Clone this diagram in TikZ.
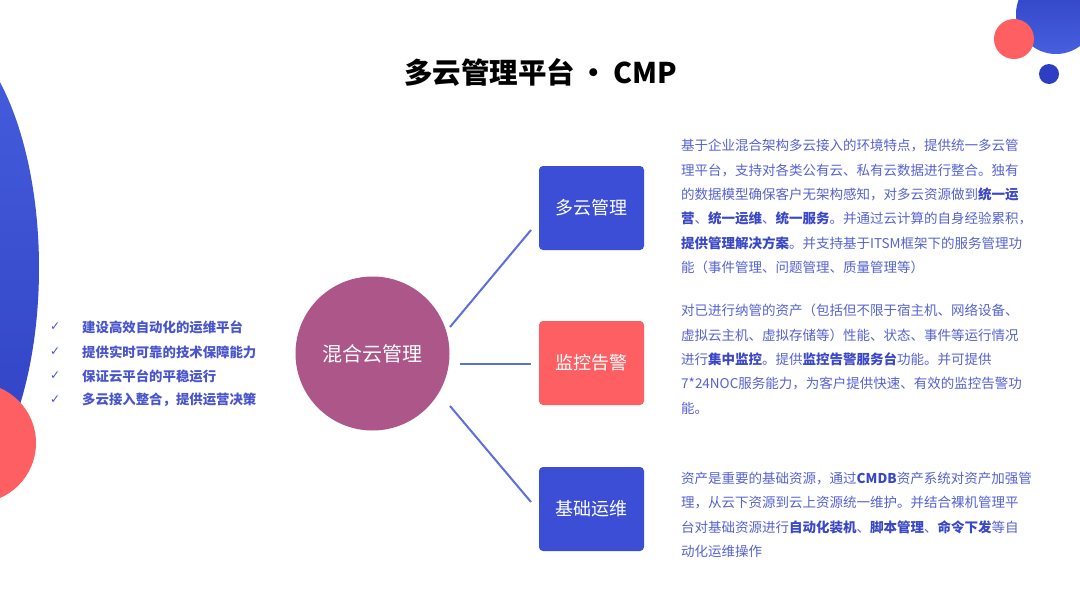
\documentclass[tikz,border=0pt]{standalone}
\usepackage{fontspec}
\setmainfont{Noto Sans CJK SC}
\newfontfamily\djv{DejaVu Sans}
\definecolor{blueL}{HTML}{4660DE}
\definecolor{blueD}{HTML}{2E3EC2}
\definecolor{boxblue}{HTML}{3B4ED5}
\definecolor{boxred}{HTML}{FE5F63}
\definecolor{hubc}{HTML}{AC5689}
\definecolor{linec}{HTML}{5C6FDB}
\definecolor{txtc}{HTML}{5663D2}
\definecolor{hlc}{HTML}{3A47C6}
\definecolor{listc}{HTML}{4855CD}
\newcommand\hb[1]{\textcolor{hlc}{\bfseries #1}}
\begin{document}
\begin{tikzpicture}[x=1pt,y=-1pt,
  boxnode/.style={rectangle, rounded corners=4pt, minimum width=105pt, minimum height=84pt, inner sep=0pt, text=white, font=\fontsize{18}{18}\selectfont},
  hubnode/.style={circle, fill=hubc, minimum size=154pt, inner sep=0pt, text=white, font=\fontsize{20}{20}\selectfont},
  conn/.style={draw=linec, line width=2pt},
  para/.style={anchor=north west, align=left, inner sep=0pt, text=txtc, font=\fontsize{13.5}{24.4}\selectfont},
  listtext/.style={anchor=west, inner sep=0pt, text=listc, font=\fontsize{13.4}{13.4}\selectfont\bfseries},
  checknode/.style={anchor=west, inner sep=0pt, text=listc, font=\djv\fontsize{12}{12}\selectfont}
]
\useasboundingbox (0,0) rectangle (1080,608);
\fill[white] (0,0) rectangle (1080,608);
% decorative shapes
\shade[top color=blueL, bottom color=blueD] (-73,268) ellipse [x radius=112pt, y radius=245pt];
\fill[boxred] (-24,443) circle [radius=60pt];
\shade[top color=blueD, bottom color=blueL] (1056,14) circle [radius=40pt];
\fill[boxred] (1014,39) circle [radius=20pt];
\fill[blueD] (1049,74) circle [radius=10pt];
% title
\node[font=\fontsize{28.5}{28.5}\selectfont\bfseries, text=black, inner sep=0pt] (title) at (540.5,72) {多云管理平台\,·\,CMP};
% hub and boxes
\node[hubnode] (hub) at (372.5,353.5) {混合云管理};
\node[boxnode, fill=boxblue] (b1) at (591.5,208) {多云管理};
\node[boxnode, fill=boxred] (b2) at (591.5,363) {监控告警};
\node[boxnode, fill=boxblue] (b3) at (591.5,509) {基础运维};
% connectors
\coordinate (l1a) at (450,327);
\coordinate (l1b) at (531,230);
\coordinate (l2a) at (460,364);
\coordinate (l2b) at (531,364);
\coordinate (l3a) at (450,406);
\coordinate (l3b) at (531,502);
\draw[conn] (l1a) -- (l1b);
\draw[conn] (l2a) -- (l2b);
\draw[conn] (l3a) -- (l3b);
% paragraphs
\node[para] (p1) at (681,139) {基于企业混合架构多云接入的环境特点，提供统一多云管\\
理平台，支持对各类公有云、私有云数据进行整合。独有\\
的数据模型确保客户无架构感知，对多云资源做到\hb{统一运}\\
\hb{营}、\hb{统一运维}、\hb{统一服务}。并通过云计算的自身经验累积，\\
\hb{提供管理解决方案}。并支持基于ITSM框架下的服务管理功\\
能（事件管理、问题管理、质量管理等）};
\node[para] (p2) at (681,304) {对已进行纳管的资产（包括但不限于宿主机、网络设备、\\
虚拟云主机、虚拟存储等）性能、状态、事件等运行情况\\
进行\hb{集中监控}。提供\hb{监控告警服务台}功能。并可提供\\
7*24NOC服务能力，为客户提供快速、有效的监控告警功\\
能。};
\node[para] (p3) at (681,472) {资产是重要的基础资源，通过\hb{CMDB}资产系统对资产加强管\\
理，从云下资源到云上资源统一维护。并结合裸机管理平\\
台对基础资源进行\hb{自动化装机}、\hb{脚本管理}、\hb{命令下发}等自\\
动化运维操作};
% checklist
\node[checknode] (k1) at (50,327) {✓};
\node[checknode] (k2) at (50,352) {✓};
\node[checknode] (k3) at (50,376) {✓};
\node[checknode] (k4) at (50,400) {✓};
\node[listtext] (t1) at (82,327) {建设高效自动化的运维平台};
\node[listtext] (t2) at (82,352) {提供实时可靠的技术保障能力};
\node[listtext] (t3) at (82,376) {保证云平台的平稳运行};
\node[listtext] (t4) at (82,400) {多云接入整合，提供运营决策};
\end{tikzpicture}
\end{document}
